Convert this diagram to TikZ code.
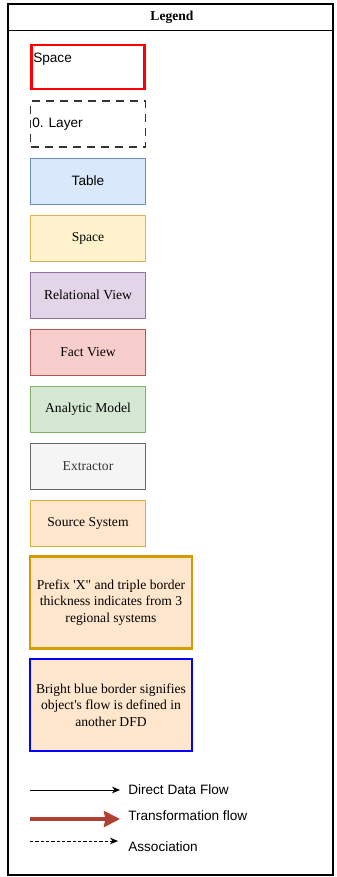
\documentclass[tikz,border=0pt]{standalone}
\usepackage{fontspec}
\setmainfont{Liberation Serif}
\setsansfont{Liberation Sans}
\usetikzlibrary{arrows.meta}
\definecolor{blueF}{HTML}{DAE8FC}\definecolor{blueD}{HTML}{6C8EBF}
\definecolor{yelF}{HTML}{FFF2CC}\definecolor{yelD}{HTML}{D6B656}
\definecolor{purF}{HTML}{E1D5E7}\definecolor{purD}{HTML}{9673A6}
\definecolor{redF}{HTML}{F8CECC}\definecolor{redD}{HTML}{B85450}
\definecolor{grnF}{HTML}{D5E8D4}\definecolor{grnD}{HTML}{82B366}
\definecolor{gryF}{HTML}{F5F5F5}\definecolor{gryD}{HTML}{666666}
\definecolor{oraF}{HTML}{FFE6CC}\definecolor{oraD}{HTML}{D79B00}
\definecolor{rust}{HTML}{AE4132}
\begin{document}
\begin{tikzpicture}[x=0.75pt,y=-0.75pt,
    legbox/.style={draw,minimum width=86pt,minimum height=34.5pt,inner sep=0pt,font=\fontsize{10.2}{12}\selectfont},
    bigbox/.style={draw,minimum width=121.5pt,minimum height=69pt,align=center,inner sep=0pt,fill=oraF,
      font=\fontsize{10.2}{12.5}\selectfont},
    lbl/.style={anchor=west,font=\sffamily\fontsize{10.2}{12}\selectfont,inner sep=0pt}]
\useasboundingbox (0,0) rectangle (336,877);
% frame and header
\draw[line width=0.9pt] (8,4) rectangle (333,875);
\draw[line width=0.75pt] (8,31) -- (333,31);
\node[font=\bfseries\fontsize{10.2}{12}\selectfont] (title) at (172,17) {Legend};
% boxes
\node[legbox,draw=red,line width=1.8pt,minimum width=84.5pt,minimum height=33pt] (spc) at (88,67) {};
\node[lbl] (spclbl) at (33,59) {Space};
\node[legbox,dashed,dash pattern=on 6pt off 4.5pt,line width=0.9pt,draw=black!80] (lay) at (88,124) {};
\node[lbl] (laylbl) at (32,124) {0. Layer};
\node[legbox,fill=blueF,draw=blueD,font=\sffamily\fontsize{10.2}{12}\selectfont] (tbl) at (88,181) {Table};
\node[legbox,fill=yelF,draw=yelD] (spc2) at (88,238) {Space};
\node[legbox,fill=purF,draw=purD] (rel) at (88,295) {Relational View};
\node[legbox,fill=redF,draw=redD] (fact) at (88,352) {Fact View};
\node[legbox,fill=grnF,draw=grnD] (ana) at (88,409) {Analytic Model};
\node[legbox,fill=gryF,draw=gryD,text=black!80] (ext) at (88,466) {Extractor};
\node[legbox,fill=oraF,draw=oraD!80] (src) at (88,523) {Source System};
\node[bigbox,draw=oraD,line width=2.2pt] (pfx) at (111,602.5) {Prefix \textquotesingle X\textquotedbl{} and triple border\\ thickness indicates from 3\\ regional systems};
\node[bigbox,draw=blue,line width=1.6pt] (bb) at (111,705) {Bright blue border signifies\\ object\textquotesingle s flow is defined in\\ another DFD};
% flows
\coordinate (a1) at (30,790); \coordinate (b1) at (120,790);
\coordinate (a2) at (30,819); \coordinate (b2) at (120,819);
\coordinate (a3) at (30,841); \coordinate (b3) at (118,841);
\draw[-{Stealth[length=6pt,width=5pt]},line width=0.75pt] (a1) -- (b1);
\draw[-{Stealth[length=12pt,width=12pt,inset=1pt]},line width=2.4pt,rust] (a2) -- (b2);
\draw[-{Stealth[length=6pt,width=5pt]},dashed,dash pattern=on 2.5pt off 1.5pt,line width=0.75pt] (a3) -- (b3);
\node[lbl] (l1) at (128,790) {Direct Data Flow};
\node[lbl] (l2) at (128,816) {Transformation flow};
\node[lbl] (l3) at (128,847) {Association};
\end{tikzpicture}
\end{document}
